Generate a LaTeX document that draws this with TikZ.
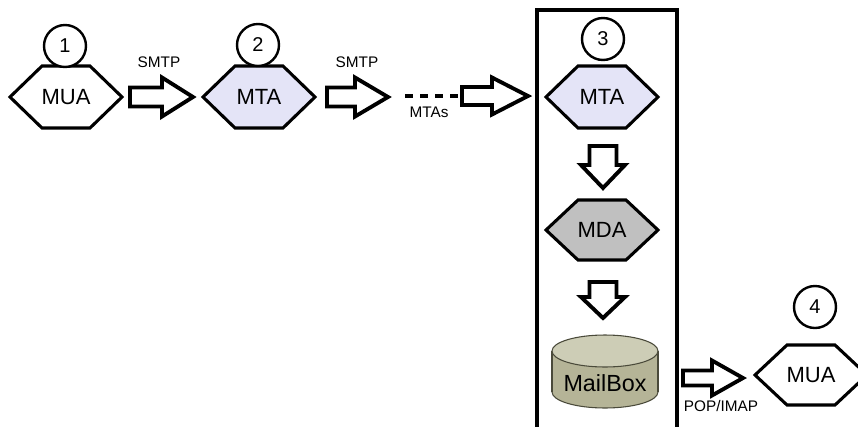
\documentclass[tikz,border=0pt]{standalone}
\usepackage{fontspec}
\setmainfont{Liberation Sans}
\usetikzlibrary{calc}
\definecolor{mtafill}{HTML}{E4E4F7}
\definecolor{mdafill}{HTML}{C0C0C0}
\definecolor{cylside}{HTML}{B5B497}
\definecolor{cyltop}{HTML}{CDCDB6}
\definecolor{cylline}{HTML}{4A4A3A}
\tikzset{
 hexline/.style={line width=2.3pt, line join=miter},
 hexlabel/.style={inner sep=0pt, font=\fontsize{16.5}{18}\selectfont},
 numcircle/.style={circle, draw, line width=1.8pt, minimum size=31.5pt, inner sep=0pt, font=\fontsize{15}{17}\selectfont, fill=white},
 blk/.style={draw, fill=white, line width=2.9pt, line join=miter, miter limit=10},
 smalllabel/.style={inner sep=0pt, font=\fontsize{11.5}{13}\selectfont},
 boxline/.style={line width=2.3pt},
 dashline/.style={line width=3pt, dash pattern=on 6pt off 5.25pt},
 mailtext/.style={inner sep=0pt, font=\fontsize{17.5}{19}\selectfont},
}
% #1 name, #2 x, #3 y, #4 fill, #5 text, #6 half height
\newcommand\hexnode[6]{%
  \draw[hexline, fill=#4, shift={(#2,#3)}] (-56,0) -- (-24,-#6) -- (24,-#6) -- (56,0) -- (24,#6) -- (-24,#6) -- cycle;
  \node[hexlabel] (#1) at (#2,#3) {#5};}
% horizontal block arrow: tail, tip, head length, head half, shaft half
\newcommand\harrow[5]{%
  \draw[blk] ($(#1)+(0,#5)$) -- ($(#2)+(-#3,#5)$) -- ($(#2)+(-#3,#4)$) -- (#2) -- ($(#2)+(-#3,-#4)$) -- ($(#2)+(-#3,-#5)$) -- ($(#1)+(0,-#5)$) -- cycle;}
% vertical (downward) block arrow
\newcommand\varrow[5]{%
  \draw[blk] ($(#1)+(-#5,0)$) -- ($(#2)+(-#5,-#3)$) -- ($(#2)+(-#4,-#3)$) -- (#2) -- ($(#2)+(#4,-#3)$) -- ($(#2)+(#5,-#3)$) -- ($(#1)+(#5,0)$) -- cycle;}
\begin{document}
\begin{tikzpicture}[x=0.75pt, y=-0.75pt]
\useasboundingbox (0,0) rectangle (858,426);
\clip (0,0) rectangle (858,426);

% box around receiving side
\draw[boxline] (537,440) -- (537,10) -- (677,10) -- (677,440);

% hexagons
\hexnode{mua1}{66}{97}{white}{MUA}{31}
\hexnode{mta2}{259}{97}{mtafill}{MTA}{31}
\hexnode{mta3}{602}{97}{mtafill}{MTA}{31}
\hexnode{mda}{602}{230}{mdafill}{MDA}{30}
\hexnode{mua4}{811}{375}{white}{MUA}{30}

% numbered circles
\node[numcircle] (c1) at (65,46) {1};
\node[numcircle] (c2) at (258,45) {2};
\node[numcircle] (c3) at (603,39) {3};
\node[numcircle] (c4) at (815,307) {4};

% mailbox cylinder
\draw[cylline, line width=0.8pt, fill=cylside] (605,392) ellipse [x radius=53, y radius=16];
\fill[cylside] (552,351) rectangle (658,392);
\draw[cylline, line width=0.8pt] (552,351) -- (552,392);
\draw[cylline, line width=0.8pt] (658,351) -- (658,392);
\draw[cylline, line width=0.8pt, fill=cyltop] (605,351) ellipse [x radius=53, y radius=16];
\node[mailtext] (mbox) at (605,383) {MailBox};

% arrow end points
\coordinate (a1s) at (130,97);  \coordinate (a1e) at (193,97);
\coordinate (a2s) at (327,97);  \coordinate (a2e) at (388,97);
\coordinate (d1s) at (405,96);  \coordinate (d1e) at (460,96);
\coordinate (a3s) at (462,96);  \coordinate (a3e) at (528,96);
\coordinate (v1s) at (603,146); \coordinate (v1e) at (603,188);
\coordinate (v2s) at (603,282); \coordinate (v2e) at (603,318);
\coordinate (a4s) at (683,378); \coordinate (a4e) at (743,378);

\harrow{a1s}{a1e}{31}{19.5}{9.5}
\harrow{a2s}{a2e}{33}{19.5}{9.5}
\draw[dashline] (d1s) -- (d1e);
\harrow{a3s}{a3e}{36}{18.5}{9}
\varrow{v1s}{v1e}{23}{22}{13.5}
\varrow{v2s}{v2e}{21}{22}{13.5}
\harrow{a4s}{a4e}{31}{17.5}{7.5}

% labels
\node[smalllabel] (l1) at (159,62) {SMTP};
\node[smalllabel] (l2) at (357,62) {SMTP};
\node[smalllabel] (l3) at (429,112) {MTAs};
\node[smalllabel] (l4) at (721,406) {POP/IMAP};
\end{tikzpicture}
\end{document}
